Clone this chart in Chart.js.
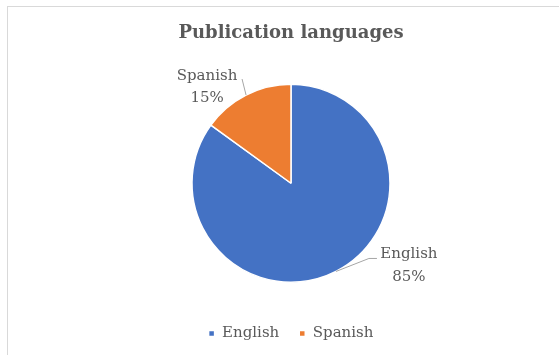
<!DOCTYPE html>
<html>
<head>
<meta charset="utf-8">
<script src="https://cdn.jsdelivr.net/npm/chart.js@4"></script>
<style>
  html, body { margin: 0; padding: 0; overflow: hidden; background: #fff; }
  #wrap { position: relative; width: 559px; height: 355px; overflow: hidden; }
  #frame { position: absolute; left: 7px; top: 6px; width: 600px; height: 400px; border: 1px solid #d9d9d9; box-sizing: border-box; }
  canvas { position: absolute; left: 0; top: 0; }
</style>
</head>
<body>
<div id="wrap">
  <div id="frame"></div>
  <canvas id="chart" width="559" height="351"></canvas>
</div>
<script>
const languages = ['English', 'Spanish'];
const shares = [85, 15];
const sliceColors = ['#4472C4', '#ED7D31'];

const textColor = '#595959';
const serif = 'DejaVu Serif';

// where each data label sits, relative to the point on the rim at the slice's mid angle
const calloutLayout = [
  { textDx: 73, line1Dy: -13, line2Dy: 10, leader: [[33, -13], [41, -13]] },
  { textDx: -39, line1Dy: -15, line2Dy: 7, leader: [[-4, -16]] }
];

const calloutPlugin = {
  id: 'callouts',
  afterDatasetsDraw(chart) {
    const ctx = chart.ctx;
    const meta = chart.getDatasetMeta(0);
    const data = chart.data.datasets[0].data;
    const total = data.reduce((a, b) => a + b, 0);
    meta.data.forEach((arc, i) => {
      const { x, y, startAngle, endAngle, outerRadius } = arc.getProps(['x', 'y', 'startAngle', 'endAngle', 'outerRadius'], true);
      const mid = (startAngle + endAngle) / 2;
      const ax = x + Math.cos(mid) * outerRadius;
      const ay = y + Math.sin(mid) * outerRadius;
      const lay = calloutLayout[i];

      ctx.save();
      ctx.strokeStyle = '#a6a6a6';
      ctx.lineWidth = 1;
      ctx.beginPath();
      ctx.moveTo(ax, ay);
      lay.leader.forEach(([dx, dy]) => ctx.lineTo(ax + dx, ay + dy));
      ctx.stroke();

      ctx.fillStyle = textColor;
      ctx.font = '15px "' + serif + '"';
      ctx.textAlign = 'center';
      ctx.textBaseline = 'alphabetic';
      ctx.fillText(chart.data.labels[i], ax + lay.textDx, ay + lay.line1Dy);
      ctx.fillText(Math.round(data[i] / total * 100) + '%', ax + lay.textDx, ay + lay.line2Dy);
      ctx.restore();
    });
  }
};

new Chart(document.getElementById('chart'), {
  type: 'pie',
  data: {
    labels: languages,
    datasets: [
      {
        data: shares,
        backgroundColor: sliceColors,
        borderColor: '#ffffff',
        borderWidth: 1.5
      }
    ]
  },
  options: {
    responsive: false,
    animation: false,
    events: [],
    devicePixelRatio: 1,
    radius: 99,
    layout: { padding: { left: 23, right: 0, top: 12, bottom: 0 } },
    plugins: {
      title: {
        display: true,
        text: 'Publication languages',
        color: textColor,
        font: { family: serif, size: 18, weight: 'bold' },
        padding: { top: 10.7, bottom: 16.2 }
      },
      legend: {
        position: 'bottom',
        labels: {
          color: textColor,
          font: { family: serif, size: 15 },
          boxWidth: 6,
          boxHeight: 6,
          padding: 20
        }
      },
      tooltip: { enabled: false }
    }
  },
  plugins: [calloutPlugin]
});
</script>
</body>
</html>
